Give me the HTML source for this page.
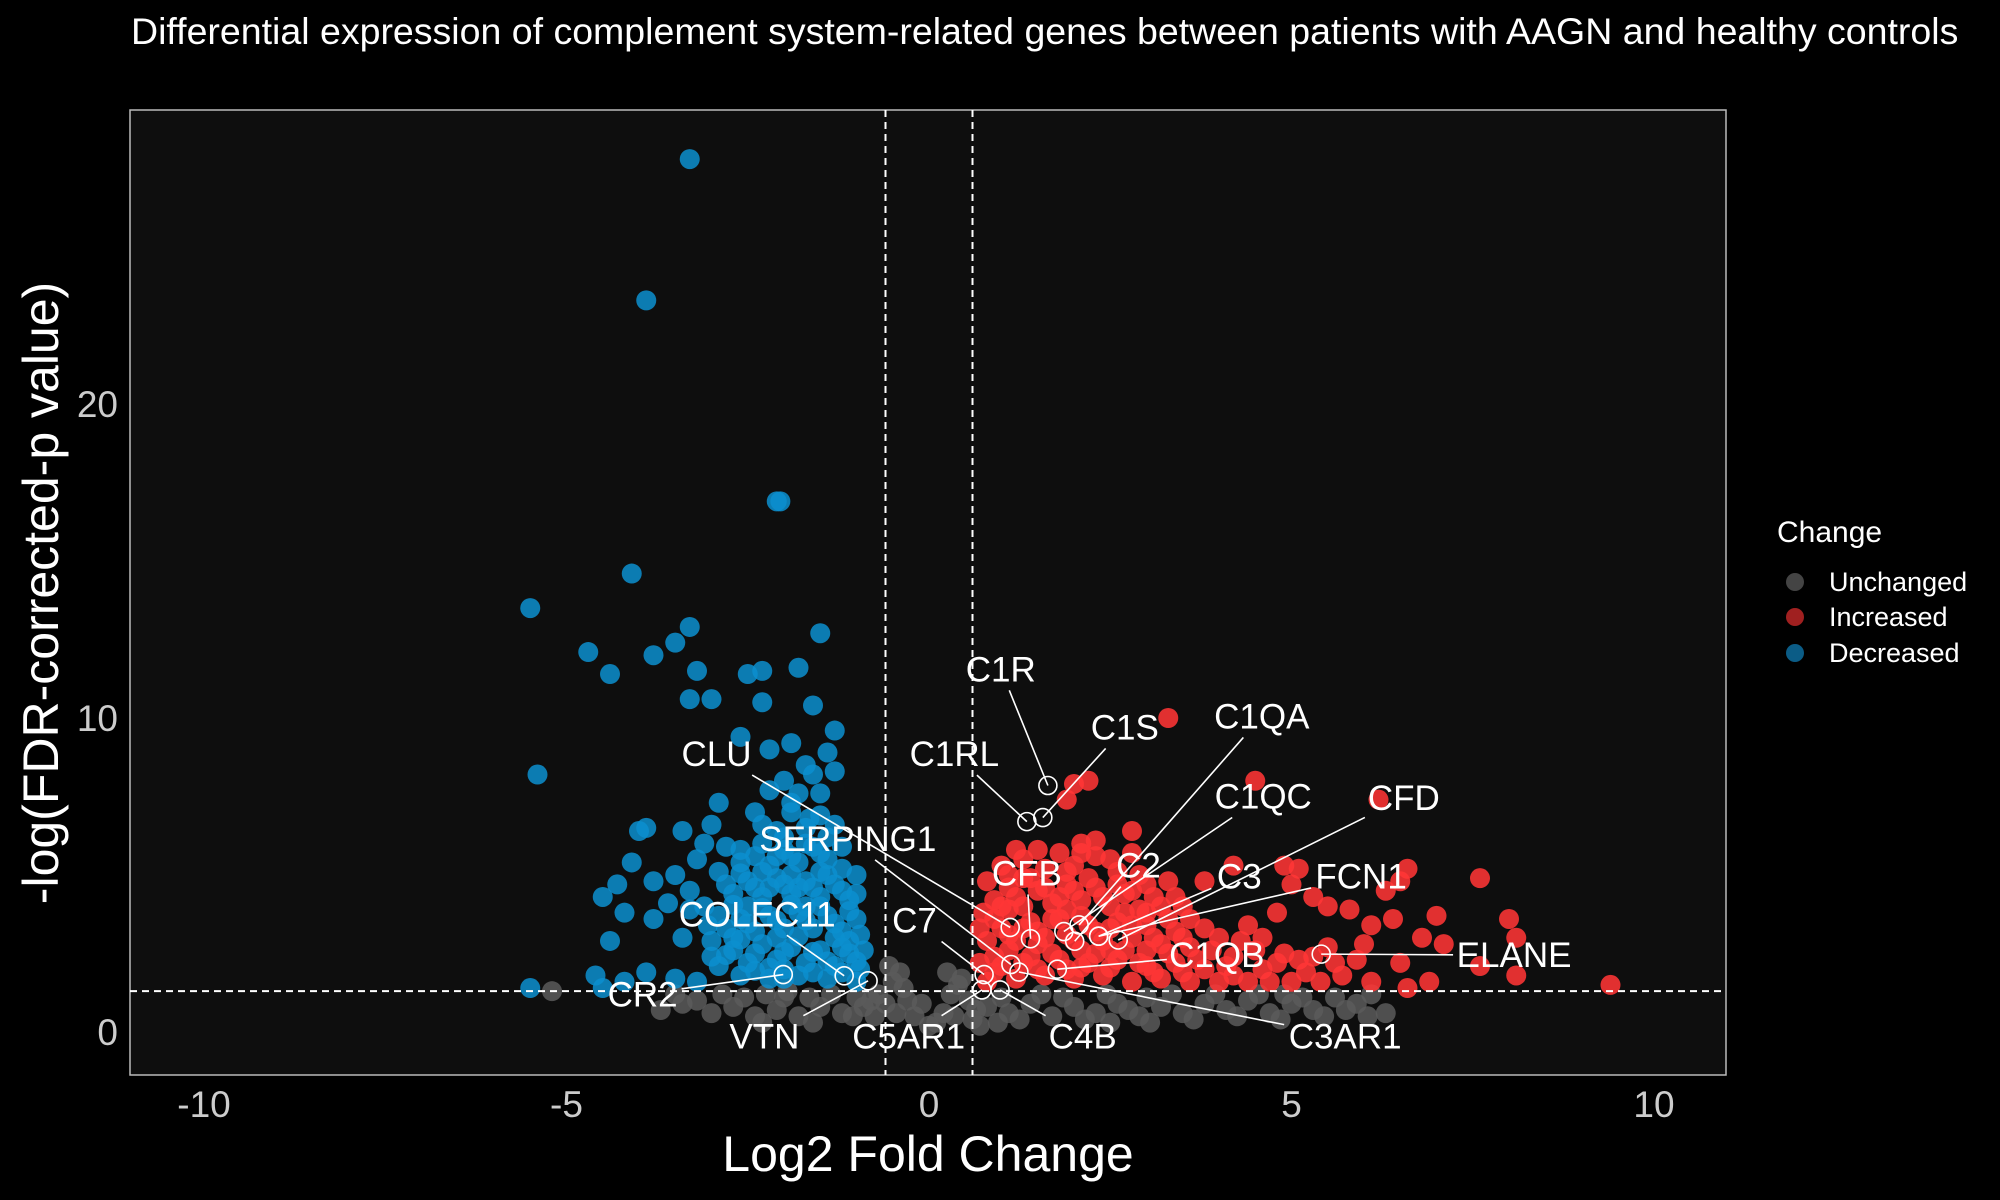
<!DOCTYPE html>
<html><head><meta charset="utf-8"><style>
html,body{margin:0;padding:0;background:#000;}
svg{display:block;font-family:"Liberation Sans",sans-serif;}
</style></head><body>
<svg id="chart" width="2000" height="1200" viewBox="0 0 2000 1200">
<rect width="2000" height="1200" fill="#000"/>
<text x="131" y="44" fill="#fff" font-size="37.5">Differential expression of complement system-related genes between patients with AAGN and healthy controls</text>
<rect x="130" y="110" width="1596" height="965" fill="#0e0e0e" stroke="#bbb" stroke-width="1.5"/>
<g id="marks"></g>
<text x="928" y="1171" fill="#fff" font-size="50" text-anchor="middle">Log2 Fold Change</text>
<text transform="translate(58,593) rotate(-90)" fill="#fff" font-size="50" text-anchor="middle">-log(FDR-corrected-p value)</text>
<g>
<text x="1777" y="542" fill="#fff" font-size="30">Change</text>
<circle cx="1795" cy="582" r="9" fill="#444"/>
<text x="1829" y="591" fill="#fff" font-size="27">Unchanged</text>
<circle cx="1795" cy="617" r="9" fill="#a02020"/>
<text x="1829" y="626" fill="#fff" font-size="27">Increased</text>
<circle cx="1795" cy="653" r="9" fill="#0b5c86"/>
<text x="1829" y="662" fill="#fff" font-size="27">Decreased</text>
</g>
</svg>
<script>
const xTicks=[-10,-5,0,5,10];
const yTicks=[0,10,20];
const fcThreshold=[-0.6,0.6];
const pThreshold=1.3;
const unchangedPts=[[-5.2,1.3],[-3.7,0.7],[-3.4,0.9],[-3.0,0.6],[-2.7,0.8],[-2.4,0.5],[-2.1,0.7],[-1.8,0.5],[-1.5,0.8],[-1.2,0.6],[-0.9,0.8],[-0.7,1.2],[-0.5,1.6],[-0.4,1.9],[-0.3,1.0],[-0.2,0.5],[0.0,0.2],[0.2,0.6],[0.3,1.2],[0.45,1.7],[0.55,1.0],[0.8,0.8],[1.1,0.6],[1.4,0.9],[1.7,0.5],[2.0,0.8],[2.3,0.6],[2.6,0.9],[2.9,0.5],[3.2,0.8],[3.5,0.6],[3.8,0.9],[4.1,0.7],[4.4,1.0],[4.7,0.6],[5.0,0.9],[5.3,0.7],[5.6,1.1],[5.9,0.9],[6.3,0.6],[6.1,1.2],[-0.6,0.9],[-0.8,1.0],[0.6,0.4],[-1.0,1.1],[-3.2,1.0],[-2.0,1.1],[1.0,1.1],[3.0,1.1],[4.9,1.2],
[-2.85,1.2],[-2.55,1.1],[-2.25,1.2],[-1.95,1.3],[-1.65,1.1],[-1.35,1.2],[-1.05,0.5],[-0.75,0.5],[-0.45,0.6],[-0.1,0.9],[0.1,0.3],[0.35,0.5],[0.65,0.7],[0.95,0.3],[1.25,0.4],[1.55,1.2],[1.85,1.1],[2.15,0.4],[2.45,1.2],[2.75,0.7],[3.05,0.3],[3.35,1.2],[3.65,0.4],[3.95,1.2],[4.25,0.5],[4.55,1.2],[4.85,0.4],[5.15,1.1],[5.45,0.5],[5.75,0.7],[6.05,0.5],[-0.55,2.1],[-0.35,1.4],[0.25,1.9],[0.4,1.5],[-3.5,1.2],[-2.3,0.3],[-1.6,0.3],[0.7,0.2],[2.5,0.3]];
const decreasedPts=[[-3.3,27.8],[-3.9,23.3],[-2.1,16.9],[-2.05,16.9],[-4.1,14.6],[-5.5,13.5],[-3.3,12.9],[-3.5,12.4],[-1.5,12.7],[-4.7,12.1],[-3.8,12.0],[-4.4,11.4],[-3.2,11.5],[-2.5,11.4],[-2.3,11.5],[-1.8,11.6],[-3.3,10.6],[-3.0,10.6],[-2.3,10.5],[-1.6,10.4],[-5.4,8.2],[-1.3,9.6],[-1.9,9.2],[-2.6,9.4],[-2.2,9.0],[-1.4,8.9],[-1.7,8.5],[-2.0,8.0],[-1.3,8.3],[-2.9,7.3],[-2.4,7.0],[-1.9,7.3],[-1.5,7.6],[-4.0,6.4],[-3.4,6.4],[-3.0,6.6],[-3.1,6.0],[-4.3,4.7],[-4.5,4.3],[-3.8,4.8],[-4.1,5.4],[-3.9,6.5],[-3.5,5.0],[-3.8,3.6],[-4.4,2.9],[-4.2,3.8],[-3.6,4.1],[-3.3,3.9],[-4.6,1.8],[-4.5,1.4],[-5.5,1.4],[-3.2,1.6],[-3.5,1.7],[-4.2,1.6],[-3.9,1.9],
[-2.9,2.1],[-2.7,2.6],[-2.5,2.2],[-2.3,2.8],[-2.1,2.3],[-1.9,2.7],[-1.7,2.2],[-1.5,2.6],[-1.3,2.1],[-1.1,2.5],[-0.95,2.0],[-2.8,3.3],[-2.6,3.6],[-2.4,3.2],[-2.2,3.7],[-2.0,3.3],[-1.8,3.8],[-1.6,3.3],[-1.4,3.7],[-1.2,3.2],[-1.0,3.6],[-2.7,4.4],[-2.5,4.8],[-2.3,4.3],[-2.1,4.9],[-1.9,4.4],[-1.7,4.8],[-1.5,4.3],[-1.3,4.7],[-1.1,4.2],[-2.4,5.6],[-2.2,5.3],[-2.0,5.8],[-1.8,5.4],[-1.6,5.9],[-1.4,5.5],[-1.2,5.2],[-2.1,6.4],[-1.7,6.5],[-1.5,6.9],[-1.9,7.0],[-3.0,2.9],[-3.1,4.0],[-2.9,5.1],[-2.6,1.8],[-2.2,1.7],[-1.8,1.8],[-1.4,1.7],[-1.0,1.6],[-2.8,5.9],[-1.0,4.4],[-1.2,5.9],[-2.6,5.4],[-3.2,5.5],[-3.4,3.0],[-2.0,2.0],[-1.6,1.9],[-2.5,4.0],[-2.1,3.0],[-1.7,4.0],[-1.3,3.0],[-2.3,5.1],[-1.9,5.0],[-1.5,5.1],[-2.7,3.0],[-1.1,2.9],
[-2.8,2.45],[-2.6,2.95],[-2.4,2.5],[-2.2,2.05],[-2.0,2.55],[-1.8,3.05],[-1.6,2.55],[-1.4,2.25],[-1.2,2.7],[-1.0,2.25],[-2.9,3.7],[-2.7,4.05],[-2.5,3.45],[-2.3,3.95],[-2.1,3.55],[-1.9,4.05],[-1.7,3.55],[-1.5,4.0],[-1.3,3.45],[-1.1,3.85],[-2.8,4.7],[-2.6,5.05],[-2.4,4.6],[-2.2,4.6],[-2.0,4.7],[-1.8,4.6],[-1.6,4.6],[-1.4,5.0],[-1.2,4.5],[-2.6,5.8],[-2.3,6.0],[-2.0,6.2],[-1.7,6.0],[-1.4,6.2],[-1.9,5.6],[-1.5,5.7],[-2.1,5.6],[-1.0,5.0],[-0.95,3.1],[-3.05,3.4],[-3.3,4.5],[-3.0,2.4],[-2.4,1.95],[-2.0,1.7],[-1.2,1.9],[-0.9,2.6],[-1.65,6.8],[-2.3,6.6],[-1.3,6.6],[-1.8,7.6],[-2.2,7.7],[-1.6,8.2]];
const increasedPts=[[3.3,10.0],[2.2,8.0],[2.0,7.9],[1.9,7.4],[4.5,8.0],[6.2,7.4],[2.8,6.4],[2.3,6.1],[2.1,6.0],[3.8,4.8],[4.2,5.3],[4.9,5.3],[5.1,5.2],[6.6,5.2],[7.6,4.9],[5.0,4.7],[5.3,4.3],[5.5,4.0],[5.8,3.9],[6.5,4.8],[6.3,4.5],[7.0,3.7],[6.1,3.4],[6.4,3.6],[6.8,3.0],[7.1,2.8],[8.0,3.6],[8.1,3.0],[7.6,2.1],[8.1,1.8],[9.4,1.5],[6.9,1.6],[6.6,1.4],[6.1,1.6],[5.7,1.8],[5.9,2.3],[4.9,2.5],[4.6,2.0],[4.2,2.4],[4.0,3.0],[3.6,3.6],[3.4,4.3],[4.4,3.4],[4.8,3.8],[5.5,2.7],[6.0,2.8],[6.5,2.2],[5.2,1.9],
[0.8,1.6],[1.0,2.1],[1.2,1.7],[1.4,2.4],[1.6,1.8],[1.8,2.3],[2.0,1.7],[2.2,2.2],[2.4,1.8],[2.6,2.3],[2.8,1.6],[3.0,2.1],[3.2,1.7],[3.4,2.2],[3.6,1.6],[3.8,2.0],[4.0,1.6],[0.8,2.9],[1.0,3.3],[1.2,2.9],[1.4,3.5],[1.6,3.0],[1.8,3.6],[2.0,2.9],[2.2,3.4],[2.4,2.9],[2.6,3.5],[2.8,3.0],[3.0,3.4],[3.2,2.8],[3.4,3.2],[0.9,4.2],[1.1,4.6],[1.3,4.0],[1.5,4.5],[1.7,4.1],[1.9,4.7],[2.1,4.2],[2.3,4.6],[2.5,4.0],[2.7,4.4],[2.9,3.9],[3.1,4.3],[1.0,5.3],[1.3,5.5],[1.6,5.2],[1.8,5.7],[2.0,5.3],[2.3,5.6],[2.6,5.1],[2.9,5.0],[3.3,4.8],[0.75,3.8],[0.9,2.4],[3.6,2.7],[4.2,1.8],[4.5,2.6],[4.8,2.2],[1.1,3.9],[1.5,2.0],[2.5,2.6],[2.1,2.6],[3.0,2.6],[1.9,3.1],[2.7,3.8],[1.3,4.9],
[0.7,2.2],[0.9,1.9],[1.1,2.6],[1.3,2.2],[1.5,2.8],[1.7,2.5],[1.9,2.0],[2.1,2.05],[2.3,2.5],[2.5,2.05],[2.7,2.6],[2.9,2.2],[3.1,1.9],[3.3,2.5],[3.5,1.9],[3.7,2.3],[3.9,2.6],[4.1,2.1],[4.4,1.6],[4.7,1.6],[5.0,1.6],[5.4,1.6],[5.1,2.3],[5.6,2.2],[0.7,3.3],[0.9,3.6],[1.1,3.1],[1.3,3.3],[1.5,3.2],[1.7,3.6],[1.9,3.9],[2.1,3.7],[2.3,3.2],[2.5,3.3],[2.8,3.4],[3.1,3.0],[3.3,3.6],[3.5,3.0],[3.8,3.3],[0.8,4.8],[1.0,4.0],[1.2,4.3],[1.4,4.9],[1.6,4.6],[1.8,4.3],[2.0,4.5],[2.2,4.9],[2.4,4.3],[2.6,4.7],[2.8,4.5],[3.0,4.7],[3.2,4.0],[3.5,4.0],[1.1,5.0],[1.5,5.8],[1.9,5.1],[2.1,5.7],[2.5,5.5],[2.8,5.7],[1.2,5.8],[3.0,3.8],[4.3,2.9],[4.6,3.0],[5.3,2.4]];
const geneNames=["C1R","C1RL","C1S","CLU","SERPING1","CFB","C2","C3","C1QA","C1QC","CFD","FCN1","C1QB","ELANE","C3AR1","C4B","C5AR1","C7","COLEC11","CR2","VTN"];
const geneFC=[1.64,1.35,1.57,1.12,1.13,1.4,2.01,2.34,2.07,1.86,2.61,2.34,1.77,5.41,1.24,0.98,0.73,0.76,-1.17,-2.01,-0.84];
const geneP=[7.85,6.7,6.83,3.33,2.15,2.97,2.89,3.05,3.41,3.2,2.93,3.05,2.0,2.48,1.91,1.34,1.34,1.83,1.79,1.83,1.63];
const labelFC=[0.99,0.35,2.70,-2.93,-1.12,1.35,2.89,4.28,4.59,4.61,6.55,5.96,3.97,8.07,5.74,2.12,-0.28,-0.20,-2.37,-3.95,-2.27];
const labelP=[11.55,8.85,9.7,8.85,6.15,5.05,5.3,4.95,10.05,7.5,7.45,4.95,2.45,2.45,-0.15,-0.15,-0.15,3.55,3.75,1.2,-0.15];

const NS="http://www.w3.org/2000/svg";
const X0=929, XS=72.5, Y0=1032, YS=31.4;
function xScale(v){return X0+v*XS;}
function yScale(v){return Y0-v*YS;}
const svg=document.getElementById('chart');
const g=document.getElementById('marks');
function mk(tag,attrs,parent){const e=document.createElementNS(NS,tag);for(const k in attrs)e.setAttribute(k,attrs[k]);(parent||g).appendChild(e);return e;}

xTicks.forEach(t=>{
  const e=mk('text',{x:xScale(t),y:1117,fill:'#ccc','font-size':37,'text-anchor':'middle'},svg);
  e.textContent=t;
  
  
});
yTicks.forEach(t=>{
  const e=mk('text',{x:118,y:yScale(t)+13,fill:'#ccc','font-size':37,'text-anchor':'end'},svg);
  e.textContent=t;
  
  
});

function drawPts(arr,fill,op,name){
  arr.forEach(p=>{
    const c=mk('circle',{cx:xScale(p[0]),cy:yScale(p[1]),r:10,fill:fill,'fill-opacity':op});
    
    
  });
}
drawPts(unchangedPts,'#5a5a5a',0.85,'point-unchanged');
drawPts(decreasedPts,'#0c8fcf',0.85,'point-decreased');
drawPts(increasedPts,'#ff3636',0.88,'point-increased');

fcThreshold.forEach(t=>{
  const l=mk('line',{x1:xScale(t),x2:xScale(t),y1:110,y2:1075,stroke:'#fff','stroke-width':2,'stroke-dasharray':'7,5'});
  
  
});
const hl=mk('line',{x1:130,x2:1726,y1:yScale(pThreshold),y2:yScale(pThreshold),stroke:'#fff','stroke-width':2,'stroke-dasharray':'7,5'});



geneNames.forEach((n,i)=>{
  const cx=xScale(geneFC[i]),cy=yScale(geneP[i]);
  const lx=xScale(labelFC[i]),ly=yScale(labelP[i]);
  const hw=n.length*11+6, hh=21;
  const dx=cx-lx, dy=cy-ly;
  let s=1;
  if(Math.abs(dx)>0) s=Math.min(s,hw/Math.abs(dx));
  if(Math.abs(dy)>0) s=Math.min(s,hh/Math.abs(dy));
  const ex=lx+dx*s, ey=ly+dy*s;
  const ln=mk('line',{x1:cx,y1:cy,x2:ex,y2:ey,stroke:'#fff','stroke-width':1.6});
  
  
  const c=mk('circle',{cx:cx,cy:cy,r:9,fill:'none',stroke:'#fff','stroke-width':1.6});
  
  
});
geneNames.forEach((n,i)=>{
  const lx=xScale(labelFC[i]),ly=yScale(labelP[i]);
  const t=mk('text',{x:lx,y:ly+12,fill:'#fff','font-size':35,'text-anchor':'middle'});
  t.textContent=n;
  
  
});
</script>
</body></html>
